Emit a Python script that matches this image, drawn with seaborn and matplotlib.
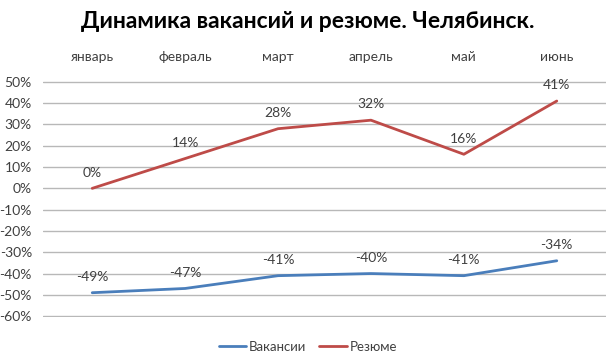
import matplotlib
matplotlib.use("Agg")
import matplotlib.pyplot as plt
import pandas as pd
import seaborn as sns

MONTHS = ["январь", "февраль", "март", "апрель", "май", "июнь"]
VACANCIES = [-49, -47, -41, -40, -41, -34]
RESUMES = [0, 14, 28, 32, 16, 41]
SERIES = ["Вакансии", "Резюме"]
COLORS = {"Вакансии": "#4a7ebb", "Резюме": "#be4b48"}
TEXT = "#404040"

sns.set_theme(style="white")
plt.rcParams["font.family"] = ["Lato", "DejaVu Sans"]

df = pd.DataFrame(
    {
        "x": list(range(len(MONTHS))) * 2,
        "value": VACANCIES + RESUMES,
        "series": [SERIES[0]] * len(MONTHS) + [SERIES[1]] * len(MONTHS),
    }
)

fig = plt.figure(figsize=(6.16, 3.62), dpi=100)
ax = fig.add_axes([43 / 616, 1 - 317 / 362, 563 / 616, 236 / 362])

sns.lineplot(data=df, x="x", y="value", hue="series", palette=COLORS,
             linewidth=2.0, ax=ax, legend=False)

for _, row in df.iterrows():
    ax.annotate(f"{row['value']}%", (row["x"], row["value"]),
                xytext=(0, 7), textcoords="offset points",
                ha="center", va="bottom", fontsize=10, color=TEXT)

ax.set_xlim(-0.53, len(MONTHS) - 0.47)
ax.set_ylim(-60.4, 50.4)
ax.set_yticks(range(-60, 51, 10))
ax.set_yticklabels([f"{v}%" for v in range(-60, 51, 10)])
ax.set_xticks(range(len(MONTHS)))
ax.set_xticklabels(MONTHS)
ax.xaxis.tick_top()
ax.tick_params(axis="x", length=0, pad=13, labelsize=10, colors=TEXT)
ax.tick_params(axis="y", length=0, pad=8, labelsize=10, colors=TEXT)
ax.set_xlabel("")
ax.set_ylabel("")
ax.yaxis.grid(True, color="#b8b8b8", linewidth=1.0)
ax.set_axisbelow(True)
for s in ax.spines.values():
    s.set_visible(False)

handles = [plt.Line2D([], [], color=COLORS[s], linewidth=2.0) for s in SERIES]
fig.legend(handles, SERIES, loc="center", bbox_to_anchor=(0.5, 1 - 347 / 362),
           ncol=2, frameon=False, fontsize=9.5, handlelength=2.1,
           handletextpad=0.2, columnspacing=1.0, labelcolor=TEXT)

fig.text(0.5, 1 - 22 / 362, "Динамика вакансий и резюме. Челябинск.",
         ha="center", va="center", fontsize=16.5, fontweight="bold", color="black")

fig.savefig("out.png", dpi=100, facecolor="white")
